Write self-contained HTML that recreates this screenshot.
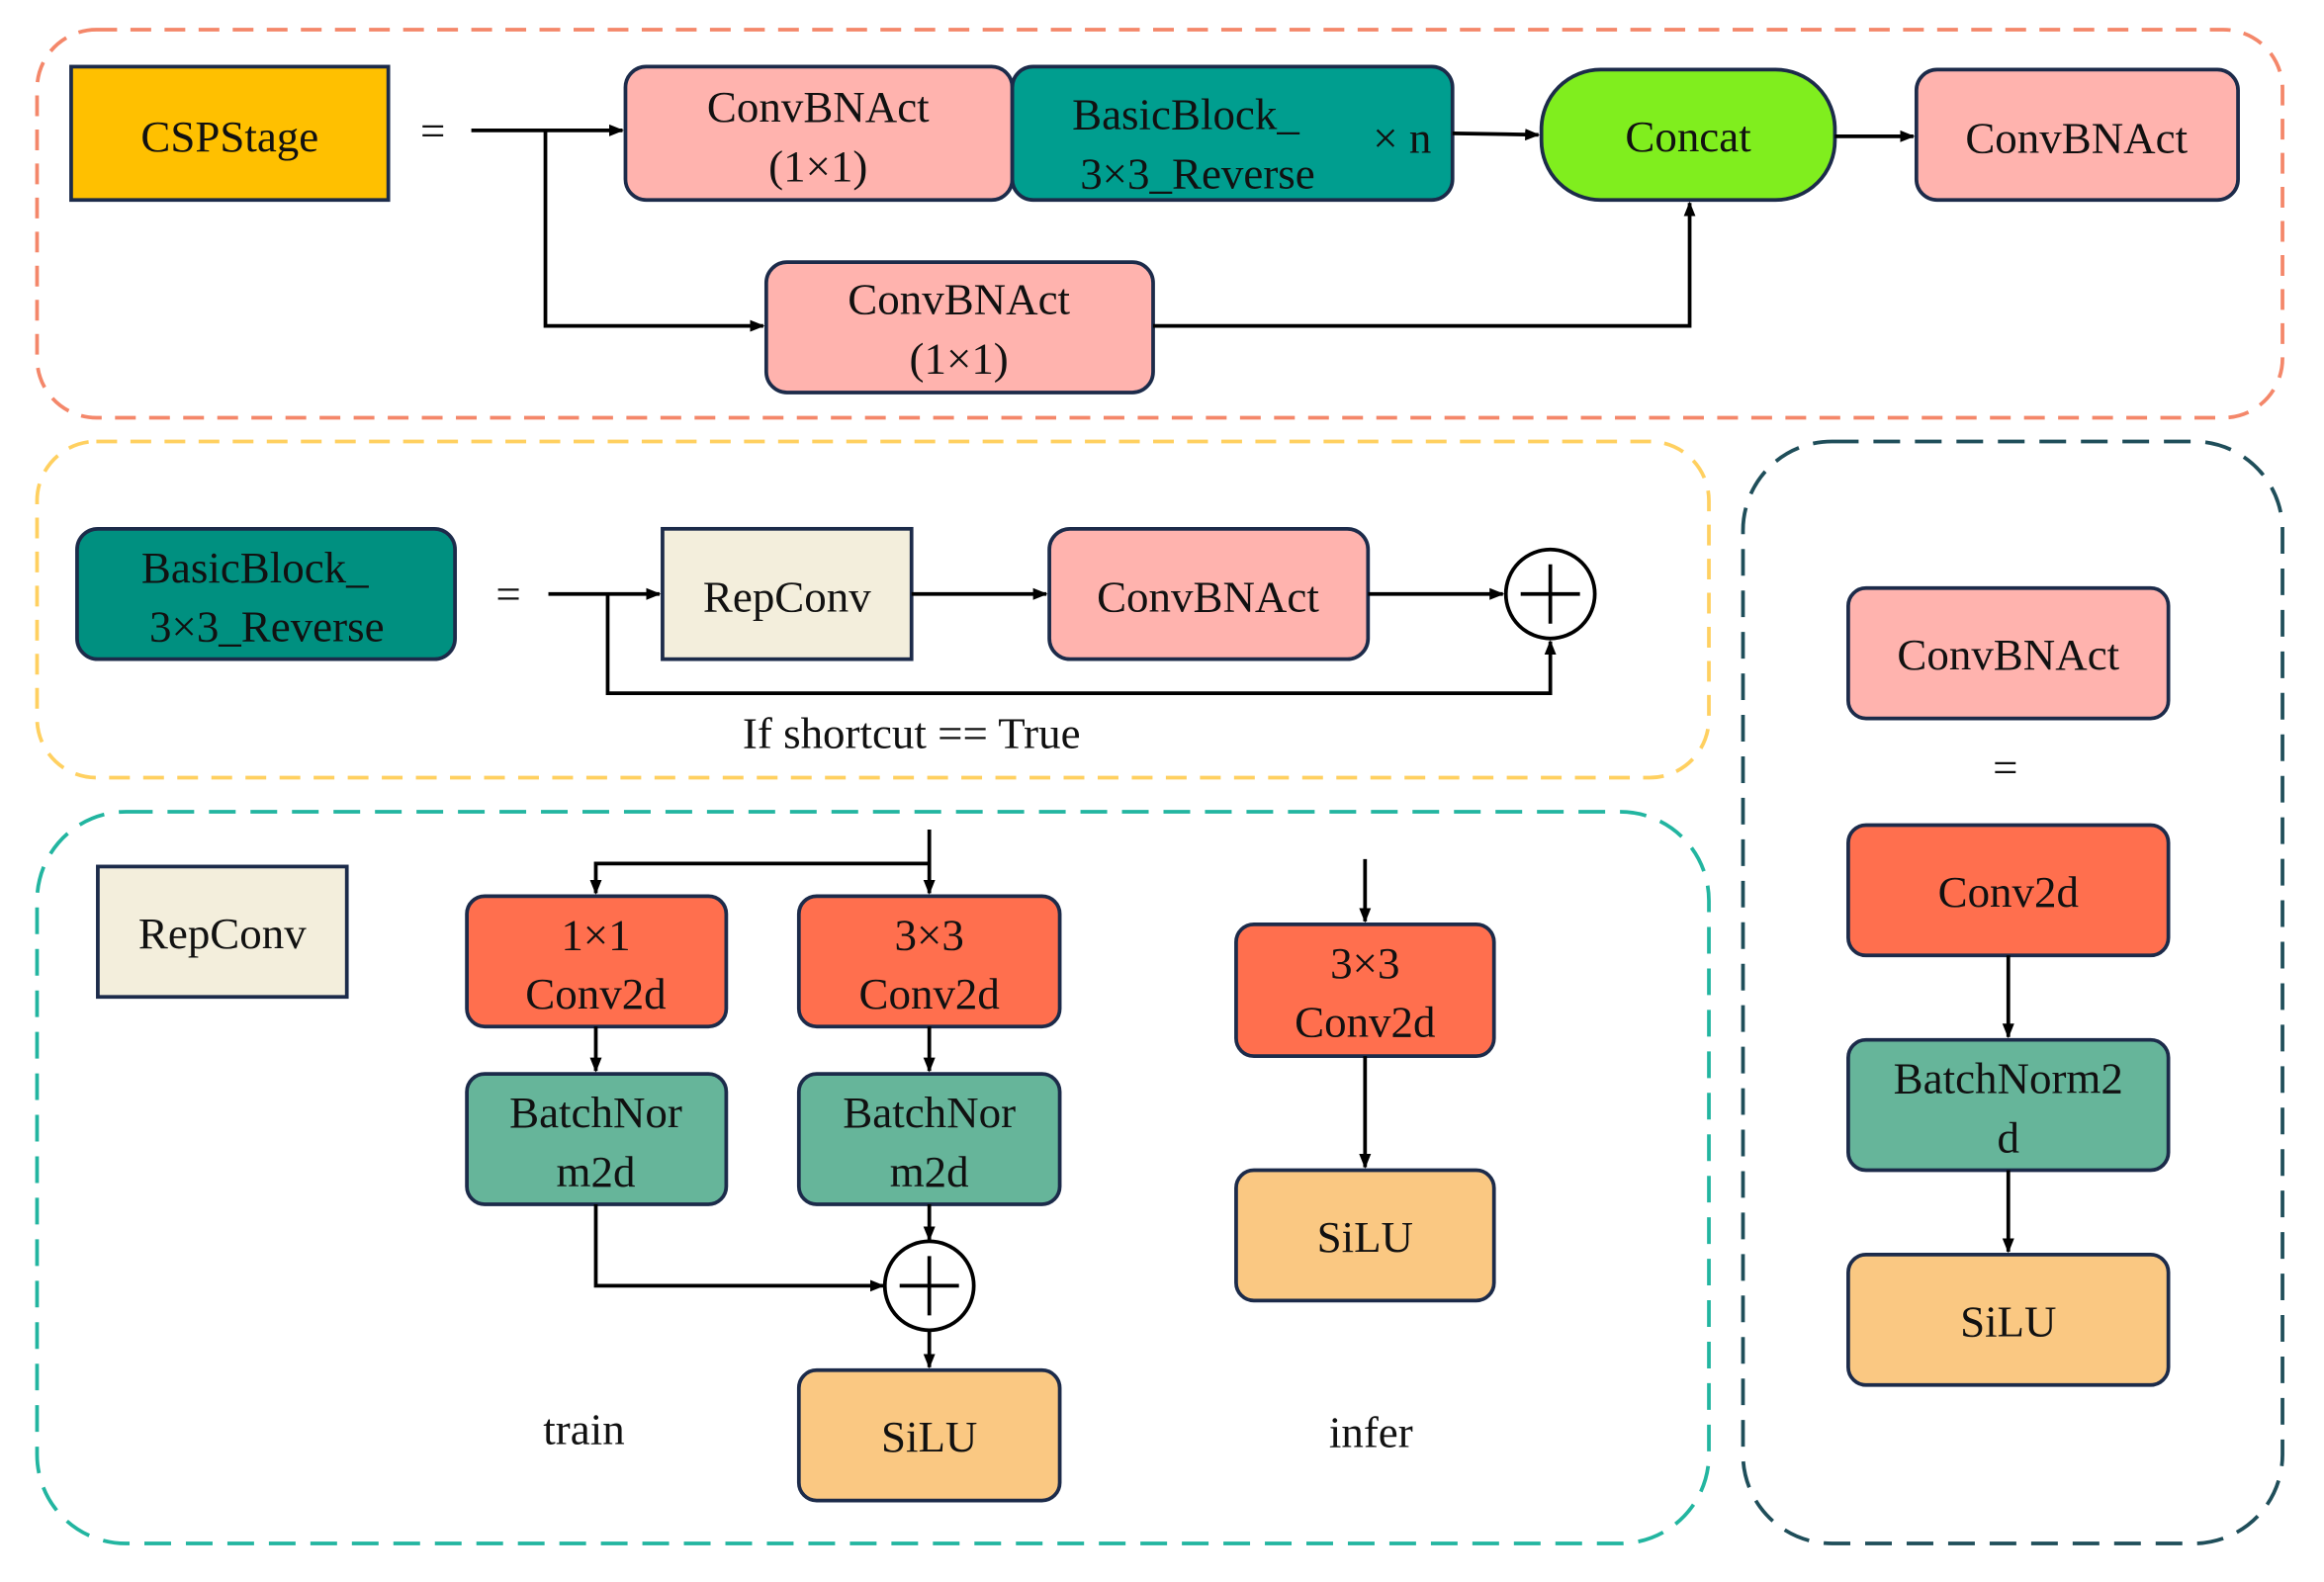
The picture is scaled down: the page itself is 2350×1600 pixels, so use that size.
<!DOCTYPE html>
<html><head><meta charset="utf-8"><style>
html,body{margin:0;padding:0;background:#fff;width:2350px;height:1600px;overflow:hidden}
svg{display:block}
text{font-family:"Liberation Serif",serif;font-size:30px;fill:#111;text-anchor:middle}
.b{stroke:#1C2B4A;stroke-width:2.5}
.l{stroke:#000;stroke-width:2.5;fill:none}
</style></head><body>
<svg width="2350" height="1600" viewBox="0 0 1568 1068" preserveAspectRatio="none" xmlns="http://www.w3.org/2000/svg">
<defs><marker id="a" markerWidth="10" markerHeight="10" refX="9" refY="5" orient="auto" markerUnits="userSpaceOnUse"><path d="M0,1 L10,5 L0,9 z" fill="#000"/></marker></defs>
<rect x="25" y="20" width="1515" height="262" rx="40" fill="none" stroke="#F4876A" stroke-width="2.5" stroke-dasharray="14 9"/>
<rect x="25" y="298" width="1128" height="227" rx="40" fill="none" stroke="#FFD060" stroke-width="2.5" stroke-dasharray="14 9"/>
<rect x="25" y="548" width="1128" height="494" rx="60" fill="none" stroke="#22B5A0" stroke-width="2.5" stroke-dasharray="18 10"/>
<rect x="1176" y="298" width="364" height="744" rx="60" fill="none" stroke="#1F4E5A" stroke-width="2.5" stroke-dasharray="18 10"/>

<rect class="b" x="48" y="45" width="214" height="90" fill="#FFC000"/>
<text x="155" y="102">CSPStage</text>
<text x="292" y="98">=</text>
<rect class="b" x="422" y="45" width="261" height="90" rx="14" fill="#FFB3AE"/>
<text x="552" y="82">ConvBNAct</text><text x="552" y="122">(1×1)</text>
<rect class="b" x="683" y="45" width="297" height="90" rx="14" fill="#009E8F"/>
<text x="800" y="87">BasicBlock_</text><text x="808" y="127">3×3_Reverse</text>
<text x="946" y="103">× n</text>
<rect class="b" x="1040" y="47" width="198" height="88" rx="40" fill="#80EE1E"/>
<text x="1139" y="102">Concat</text>
<rect class="b" x="1293" y="47" width="217" height="88" rx="14" fill="#FFB3AE"/>
<text x="1401" y="103">ConvBNAct</text>
<rect class="b" x="517" y="177" width="261" height="88" rx="14" fill="#FFB3AE"/>
<text x="647" y="212">ConvBNAct</text><text x="647" y="252">(1×1)</text>
<path class="l" d="M318,88 L420,88" marker-end="url(#a)"/>
<path class="l" d="M368,88 L368,220 L515,220" marker-end="url(#a)"/>
<path class="l" d="M980,90 L1038,91" marker-end="url(#a)"/>
<path class="l" d="M1238,92 L1291,92" marker-end="url(#a)"/>
<path class="l" d="M778,220 L1140,220 L1140,137" marker-end="url(#a)"/>

<rect class="b" x="52" y="357" width="255" height="88" rx="14" fill="#009080"/>
<text x="172" y="393">BasicBlock_</text><text x="180" y="433">3×3_Reverse</text>
<text x="343" y="411">=</text>
<rect class="b" x="447" y="357" width="168" height="88" fill="#F3EEDC"/>
<text x="531" y="413">RepConv</text>
<rect class="b" x="708" y="357" width="215" height="88" rx="14" fill="#FFB3AE"/>
<text x="815" y="413">ConvBNAct</text>
<circle cx="1046" cy="401" r="30" fill="#fff" stroke="#000" stroke-width="2.5"/>
<path class="l" d="M1046,381 L1046,421 M1026,401 L1066,401"/>
<path class="l" d="M370,401 L445,401" marker-end="url(#a)"/>
<path class="l" d="M615,401 L706,401" marker-end="url(#a)"/>
<path class="l" d="M923,401 L1014,401" marker-end="url(#a)"/>
<path class="l" d="M410,401 L410,468 L1046,468 L1046,433" marker-end="url(#a)"/>
<text x="615" y="505">If shortcut == True</text>

<rect class="b" x="66" y="585" width="168" height="88" fill="#F3EEDC"/>
<text x="150" y="640">RepConv</text>
<rect class="b" x="315" y="605" width="175" height="88" rx="12" fill="#FF6F4E"/>
<text x="402" y="641">1×1</text><text x="402" y="681">Conv2d</text>
<rect class="b" x="539" y="605" width="176" height="88" rx="12" fill="#FF6F4E"/>
<text x="627" y="641">3×3</text><text x="627" y="681">Conv2d</text>
<rect class="b" x="315" y="725" width="175" height="88" rx="12" fill="#66B59A"/>
<text x="402" y="761">BatchNor</text><text x="402" y="801">m2d</text>
<rect class="b" x="539" y="725" width="176" height="88" rx="12" fill="#66B59A"/>
<text x="627" y="761">BatchNor</text><text x="627" y="801">m2d</text>
<circle cx="627" cy="868" r="30" fill="#fff" stroke="#000" stroke-width="2.5"/>
<path class="l" d="M627,848 L627,888 M607,868 L647,868"/>
<rect class="b" x="539" y="925" width="176" height="88" rx="12" fill="#FAC882"/>
<text x="627" y="980">SiLU</text>
<path class="l" d="M627,560 L627,603" marker-end="url(#a)"/>
<path class="l" d="M627,583 L402,583 L402,603" marker-end="url(#a)"/>
<path class="l" d="M402,693 L402,723" marker-end="url(#a)"/>
<path class="l" d="M627,693 L627,723" marker-end="url(#a)"/>
<path class="l" d="M402,813 L402,868 L596,868" marker-end="url(#a)"/>
<path class="l" d="M627,813 L627,837" marker-end="url(#a)"/>
<path class="l" d="M627,898 L627,923" marker-end="url(#a)"/>
<text x="394" y="975">train</text>
<text x="925" y="977">infer</text>
<path class="l" d="M921,580 L921,622" marker-end="url(#a)"/>
<rect class="b" x="834" y="624" width="174" height="89" rx="12" fill="#FF6F4E"/>
<text x="921" y="660">3×3</text><text x="921" y="700">Conv2d</text>
<path class="l" d="M921,713 L921,788" marker-end="url(#a)"/>
<rect class="b" x="834" y="790" width="174" height="88" rx="12" fill="#FAC882"/>
<text x="921" y="845">SiLU</text>

<rect class="b" x="1247" y="397" width="216" height="88" rx="12" fill="#FFB3AE"/>
<text x="1355" y="452">ConvBNAct</text>
<text x="1353" y="528">=</text>
<rect class="b" x="1247" y="557" width="216" height="88" rx="12" fill="#FF6F4E"/>
<text x="1355" y="612">Conv2d</text>
<path class="l" d="M1355,645 L1355,700" marker-end="url(#a)"/>
<rect class="b" x="1247" y="702" width="216" height="88" rx="12" fill="#66B59A"/>
<text x="1355" y="738">BatchNorm2</text><text x="1355" y="778">d</text>
<path class="l" d="M1355,790 L1355,845" marker-end="url(#a)"/>
<rect class="b" x="1247" y="847" width="216" height="88" rx="12" fill="#FAC882"/>
<text x="1355" y="902">SiLU</text>
</svg>
</body></html>
